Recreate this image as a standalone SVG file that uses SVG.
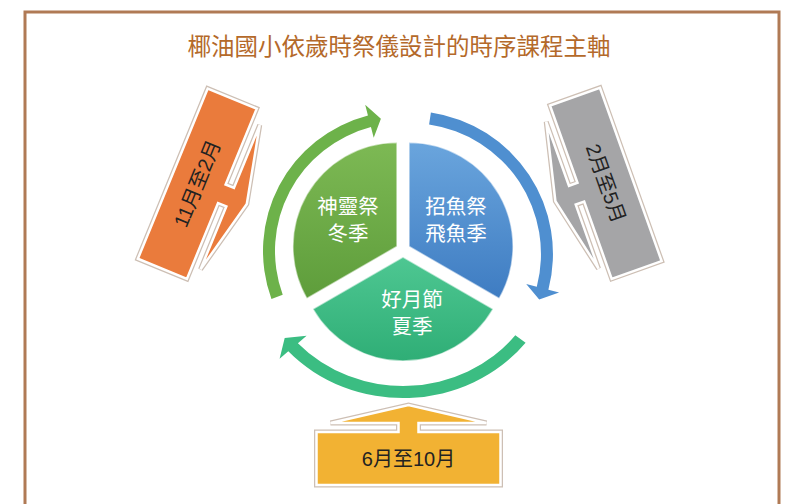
<svg xmlns="http://www.w3.org/2000/svg" width="789" height="504" viewBox="0 0 789 504">
<defs>
<style>
.t{font-family:"Liberation Sans","Noto Sans CJK TC",sans-serif;}
.w{fill:#ffffff;font-size:20.5px;text-anchor:middle;}
.k{fill:#222222;font-size:20px;text-anchor:middle;}
.co1{stroke:#cdbfb4;stroke-width:5;stroke-linejoin:miter;}
.co2{stroke:#ffffff;stroke-width:2.5;stroke-linejoin:miter;}
.sec{stroke:#ffffff;stroke-opacity:0.55;stroke-width:1.5;}
</style>
<linearGradient id="gG" x1="0" y1="0" x2="0" y2="1"><stop offset="0" stop-color="#7db954"/><stop offset="1" stop-color="#5e9d3b"/></linearGradient>
<linearGradient id="gB" x1="0" y1="0" x2="0" y2="1"><stop offset="0" stop-color="#6aa5dd"/><stop offset="1" stop-color="#3e7cc2"/></linearGradient>
<linearGradient id="gT" x1="0" y1="0" x2="0" y2="1"><stop offset="0" stop-color="#4ec792"/><stop offset="1" stop-color="#2fae76"/></linearGradient>
<path id="callout" d="M-92,-26.5 H92 V26.5 H10 V35.5 H78 L0,53.5 L-78,35.5 H-10 V26.5 H-92 Z"/>
</defs>
<rect x="0" y="0" width="789" height="504" fill="#ffffff"/>
<rect x="25" y="12" width="754" height="520" fill="#ffffff" stroke="#b07a55" stroke-width="3"/>
<text class="t" x="399" y="55" font-size="23.5" fill="#b4692a" text-anchor="middle">椰油國小依歲時祭儀設計的時序課程主軸</text>

<g id="connectors">
<path fill="#6db24a" d="M271.44,298.88 A140,140 0 0,1 367.94,115.47 L365.19,104.82 L380.89,118.84 L373.70,137.73 L370.95,127.08 A128,128 0 0,0 282.72,294.78 Z"/>
<path fill="#4f8fd0" d="M430.9,112.5 A143,143 0 0,1 548.4,289.8 L559.1,292.6 L539.2,299.5 L526.2,284.0 L536.8,286.8 A131,131 0 0,0 429.1,124.4 Z"/>
<path fill="#3bbd82" d="M525.6,342.7 A155.5,144 0 0,1 288.3,351.3 L279.6,358.7 L284.7,338.0 L306.6,335.7 L297.9,343.2 A142.6,132 0 0,0 515.3,335.3 Z"/>
</g>

<g id="winter">
<path class="sec" d="M396.94,246.5 L306.87,298.5 A104,104 0 0,1 396.94,142.5 Z" fill="url(#gG)"/>
<text class="t w" x="348" y="214">神靈祭</text>
<text class="t w" x="348" y="241">冬季</text>
</g>
<g id="flyingfish">
<path class="sec" d="M409.06,246.5 L409.06,142.5 A104,104 0 0,1 499.13,298.5 Z" fill="url(#gB)"/>
<text class="t w" x="456" y="214">招魚祭</text>
<text class="t w" x="456" y="241">飛魚季</text>
</g>
<g id="summer">
<path class="sec" d="M403,257 L493.07,309 A104,104 0 0,1 312.93,309 Z" fill="url(#gT)"/>
<text class="t w" x="412" y="307">好月節</text>
<text class="t w" x="412" y="334">夏季</text>
</g>

<g id="nov-feb" transform="translate(197.3,183.7) rotate(-67.7)">
<use href="#callout" class="co1" fill="none"/>
<use href="#callout" class="co2" fill="#ea7b3c"/>
<text class="t k" x="0" y="7">11月至2月</text>
</g>
<g id="feb-may" transform="translate(605.8,183.3) rotate(70.4)">
<use href="#callout" class="co1" fill="none"/>
<use href="#callout" class="co2" fill="#a5a5a7"/>
<text class="t k" x="0" y="7">2月至5月</text>
</g>
<g id="jun-oct" transform="translate(408.5,458.5)">
<use href="#callout" class="co1" fill="none" transform="rotate(180)"/>
<use href="#callout" class="co2" fill="#f2b233" transform="rotate(180)"/>
<text class="t k" x="0" y="7">6月至10月</text>
</g>
</svg>
